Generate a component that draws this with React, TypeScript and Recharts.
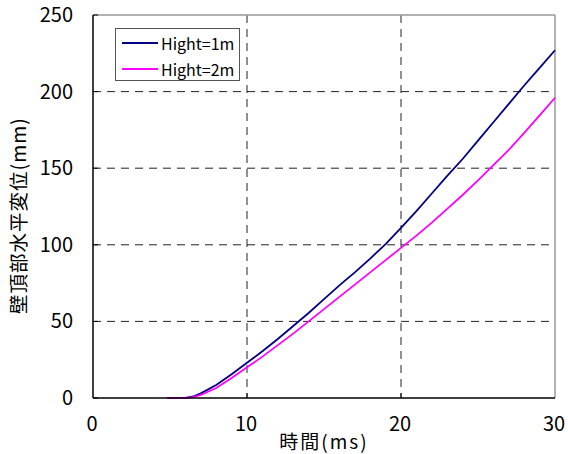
import React from "react";
import {
  CartesianGrid,
  Legend,
  Line,
  LineChart,
  ReferenceLine,
  XAxis,
  YAxis,
} from "recharts";

// time (ms)
const TIME = [
  4.8, 5.7, 6, 6.5, 7, 8, 9, 10, 11, 12, 13, 14, 15, 16, 17, 18, 19, 20, 21,
  22, 23, 24, 25, 26, 27, 28, 29, 30,
];
// Hight=1m (mm)
const H1 = [
  null, 0, 0, 1, 3, 8.5, 15.5, 23, 30.5, 38.5, 47, 55.5, 64.5, 73.5, 82, 91,
  100.5, 111, 122, 133.5, 145, 156, 168, 180, 192, 204, 215.5, 227,
];
// Hight=2m (mm)
const H2 = [
  0, 0, 0, 0.5, 2, 6.5, 13, 20, 27, 34.5, 42, 50, 58, 66, 74, 82, 90, 98, 106,
  114.5, 123.5, 132.5, 142, 152, 162, 173, 184.5, 196,
];
const X_TICKS = [0, 10, 20, 30];
const Y_TICKS = [0, 50, 100, 150, 200, 250];
const SERIES = [
  { key: "h1", name: "Hight=1m", color: "#000080" },
  { key: "h2", name: "Hight=2m", color: "#ff00ff" },
];

const data = TIME.map((t, i) => ({ t, h1: H1[i], h2: H2[i] }));

const FONT = '"Noto Sans CJK JP", sans-serif';

function YTick({ x, y, payload }: any) {
  return (
    <g>
      <line x1={x} x2={x + 5} y1={y} y2={y} stroke="#000" />
      <text
        x={x - 20}
        y={y}
        dy={7}
        textAnchor="end"
        fontSize={20}
        fontFamily={FONT}
        fill="#000"
      >
        {payload.value}
      </text>
    </g>
  );
}

function XTick({ x, y, payload }: any) {
  return (
    <g>
      {payload.value !== 0 && payload.value !== 30 && (
        <line x1={x} x2={x} y1={y} y2={y - 5} stroke="#000" />
      )}
      <text
        x={x - 1}
        y={y + 33}
        textAnchor="middle"
        fontSize={20}
        fontFamily={FONT}
        fill="#000"
      >
        {payload.value}
      </text>
    </g>
  );
}

function YLabel({ viewBox }: any) {
  const cy = viewBox.y + viewBox.height / 2 + 9;
  return (
    <text
      x={17}
      y={cy}
      transform={`rotate(-90, 17, ${cy})`}
      textAnchor="middle"
      dominantBaseline="central"
      fontSize={19.5}
      fontFamily={FONT}
      letterSpacing={1}
      fill="#000"
    >
      壁頂部水平変位(mm)
    </text>
  );
}

function XLabel({ viewBox }: any) {
  return (
    <text
      x={324}
      y={viewBox.y + viewBox.height - 5}
      textAnchor="middle"
      fontSize={19}
      fontFamily={FONT}
      letterSpacing={2}
      fill="#000"
    >
      時間(ms)
    </text>
  );
}

function LegendBox() {
  return (
    <div
      style={{
        position: "relative",
        border: "1px solid #555",
        background: "#fff",
        width: 123,
        height: 51,
        fontFamily: FONT,
        fontSize: 16,
        color: "#000",
      }}
    >
      {SERIES.map((s, i) => (
        <div
          key={s.key}
          style={{
            position: "absolute",
            left: 6,
            top: 3 + i * 26,
            height: 22,
            display: "flex",
            alignItems: "center",
            whiteSpace: "nowrap",
          }}
        >
          <span
            style={{
              display: "inline-block",
              width: 36,
              height: 0,
              borderTop: `2px solid ${s.color}`,
              marginRight: 3,
            }}
          />
          <span>{s.name}</span>
        </div>
      ))}
    </div>
  );
}

export default function App() {
  return (
    <div style={{ position: "absolute", left: 0, top: 0, background: "#fff" }}>
      <LineChart
        width={568}
        height={454}
        data={data}
        margin={{ top: 15, right: 13, bottom: 0, left: 0 }}
      >
        <CartesianGrid
          stroke="#222"
          strokeDasharray="8 6"
          horizontalValues={[50, 100, 150, 200]}
          verticalValues={[10, 20]}
        />
        <XAxis
          dataKey="t"
          type="number"
          domain={[0, 30]}
          ticks={X_TICKS}
          height={56}
          tickSize={0}
          tickMargin={0}
          tickLine={false}
          axisLine={{ stroke: "#000", strokeWidth: 1.5 }}
          tick={<XTick />}
          label={<XLabel />}
        />
        <YAxis
          type="number"
          domain={[0, 250]}
          ticks={Y_TICKS}
          width={93}
          tickSize={0}
          tickMargin={0}
          tickLine={false}
          axisLine={{ stroke: "#000", strokeWidth: 1.5 }}
          tick={<YTick />}
          label={<YLabel />}
        />
        <ReferenceLine y={250} stroke="#999" strokeWidth={1.5} />
        <ReferenceLine x={30} stroke="#999" strokeWidth={1.5} />
        {SERIES.map((s) => (
          <Line
            key={s.key}
            dataKey={s.key}
            name={s.name}
            type="linear"
            stroke={s.color}
            strokeWidth={1.8}
            dot={false}
            connectNulls={false}
            isAnimationActive={false}
          />
        ))}
        <Legend
          layout="vertical"
          align="center"
          verticalAlign="middle"
          wrapperStyle={{ left: 115, top: 28, width: 125 }}
          content={<LegendBox />}
        />
      </LineChart>
    </div>
  );
}
